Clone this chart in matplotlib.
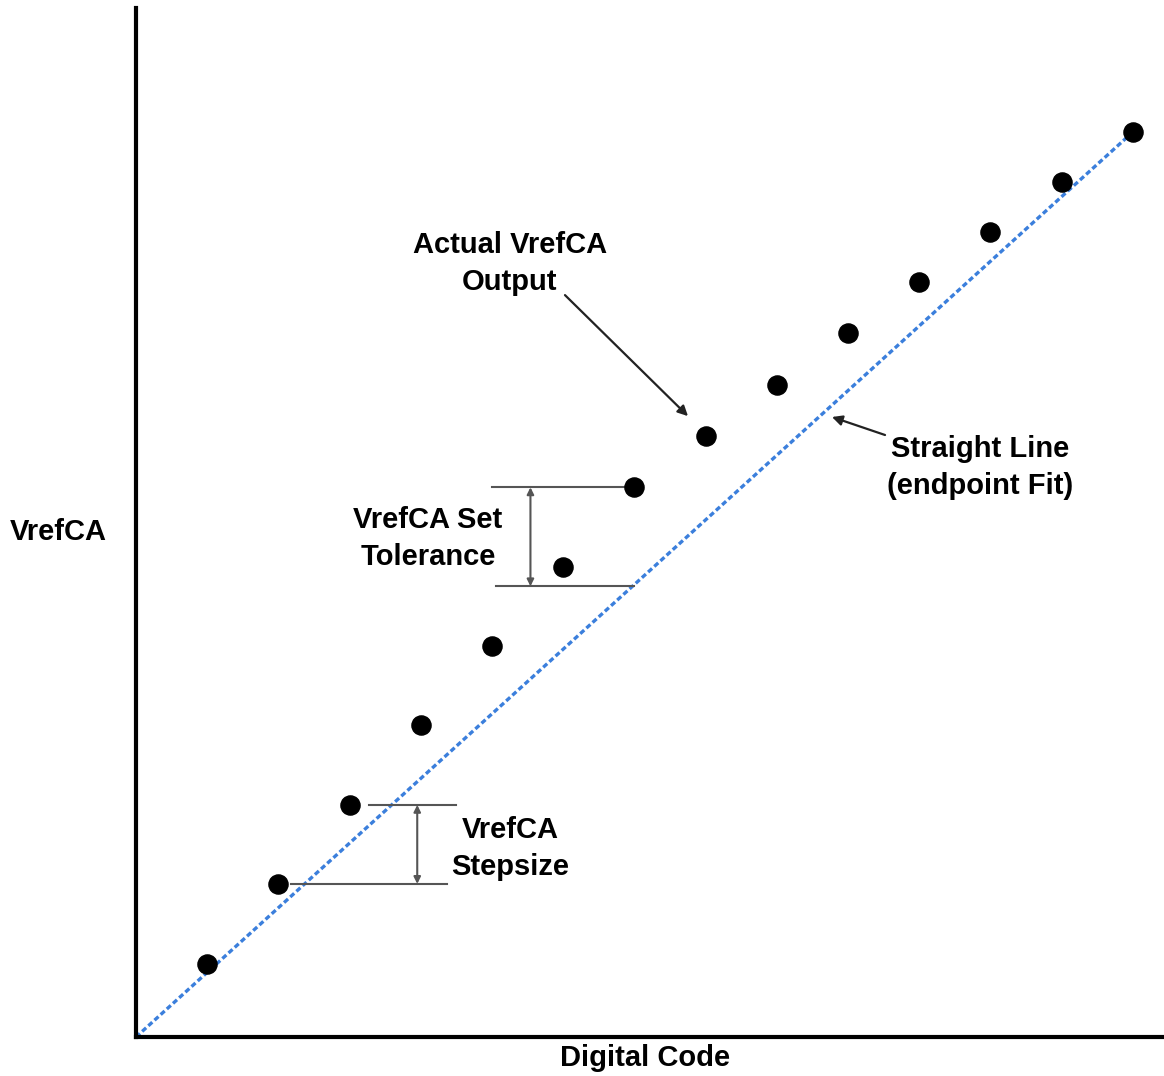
"""
VrefCA output vs digital code, with endpoint-fit straight line
"""

import numpy as np
import matplotlib
matplotlib.use('Agg')
import matplotlib.pyplot as plt

# digital code steps and measured output (arbitrary units)
codes = [1, 2, 3, 4, 5, 6, 7, 8, 9, 10, 11, 12, 13, 14]
vref_out = [1.02, 2.15, 3.26, 4.38, 5.49, 6.60, 7.72, 8.44, 9.16,
            9.89, 10.60, 11.31, 12.01, 12.71]

# endpoint fit: origin to last point
fit_x = [0, 14]
fit_y = [0, 12.71]

# helper marks (code, level)
tol_top = 7.72
tol_bot = 6.33
step_top = 3.26
step_bot = 2.15

plt.rcParams['font.family'] = ['Liberation Sans', 'DejaVu Sans']

fig = plt.figure(figsize=(11.64, 10.76), dpi=100)
W, H = 1164, 1076
x0, y0 = 136, 1037
scale = 71.2
ax = fig.add_axes([x0 / W, (H - y0) / H, (W - x0) / W, (y0 - 8) / H])
ax.set_xlim(0, (W - x0) / scale)
ax.set_ylim(0, (y0 - 8) / scale)

for side in ['top', 'right']:
    ax.spines[side].set_visible(False)
for side in ['left', 'bottom']:
    ax.spines[side].set_linewidth(3)
ax.set_xticks([])
ax.set_yticks([])

ax.plot(fit_x, fit_y, color='#3b7fdc', linewidth=2.4, linestyle=(0, (1.6, 0.9)),
        zorder=2)
ax.scatter(codes, vref_out, s=190, color='black', zorder=3)

grey = '#555555'
txt = dict(fontsize=21, fontweight='bold', linespacing=1.4,
           ha='center', va='center')
# tolerance marks
ax.plot([5.0, 6.9], [tol_top, tol_top], color=grey, lw=1.5)
ax.plot([5.05, 7.0], [tol_bot, tol_bot], color=grey, lw=1.5)
ax.annotate('', xy=(5.54, tol_top), xytext=(5.54, tol_bot),
            arrowprops=dict(arrowstyle='<|-|>', color=grey, lw=1.5,
                            mutation_scale=10, shrinkA=0, shrinkB=0))
ax.text(4.1, 7.0, 'VrefCA Set\nTolerance', **txt)

# step size marks
ax.plot([3.27, 4.5], [step_top, step_top], color=grey, lw=1.5)
ax.plot([2.17, 4.37], [step_bot, step_bot], color=grey, lw=1.5)
ax.annotate('', xy=(3.95, step_top), xytext=(3.95, step_bot),
            arrowprops=dict(arrowstyle='<|-|>', color=grey, lw=1.5,
                            mutation_scale=10, shrinkA=0, shrinkB=0))
ax.text(5.25, 2.65, 'VrefCA\nStepsize', **txt)

# callouts
arrow = dict(arrowstyle='-|>', color='#222222', lw=1.6,
             mutation_scale=15, shrinkA=0, shrinkB=0)
ax.text(5.25, 10.86, 'Actual VrefCA\nOutput', **txt)
ax.annotate('', xy=(7.753, 8.72), xytext=(6.025, 10.42), arrowprops=arrow)
ax.text(11.85, 8.0, 'Straight Line\n(endpoint Fit)', **txt)
ax.annotate('', xy=(9.775, 8.708), xytext=(10.52, 8.455), arrowprops=arrow)

fig.text(58 / W, 1 - 532 / H, 'VrefCA', ha='center', va='center',
         fontsize=21, fontweight='bold')
fig.text(645 / W, 1 - 1058 / H, 'Digital Code', ha='center', va='center',
         fontsize=21, fontweight='bold')

fig.savefig('out.png', dpi=100)
